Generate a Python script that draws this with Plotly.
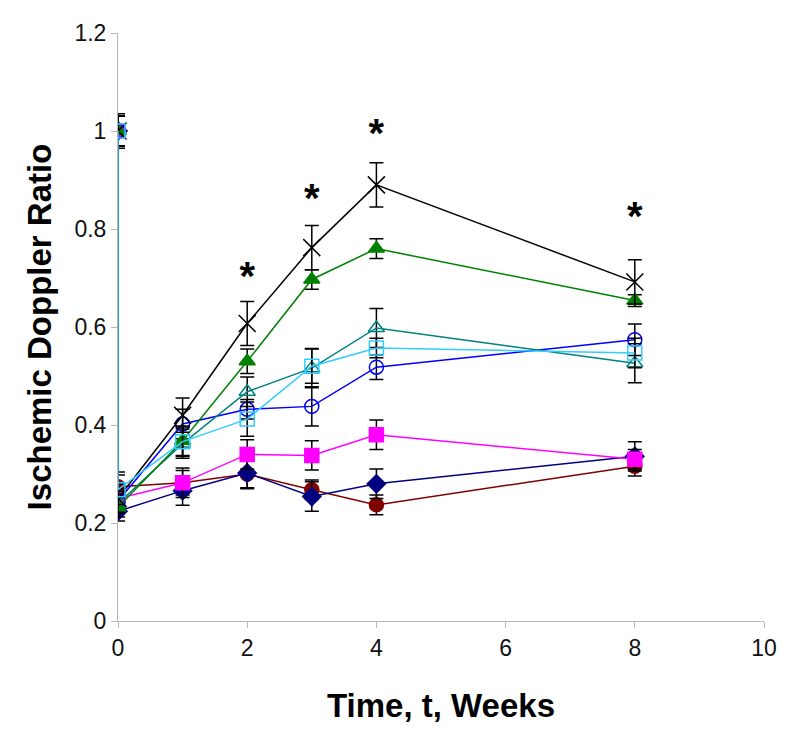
import plotly.graph_objects as go

# time points: two readings at week 0 (pre- and post-ischemia)
weeks = [0, 0, 1, 2, 3, 4, 8]

# series values (ischemic doppler ratio)
black_x = [1.0, 0.25, 0.42, 0.607, 0.762, 0.89, 0.692]
black_x_err = [0.035, 0.03, 0.035, 0.045, 0.045, 0.045, 0.045]

green_tri = [1.0, 0.232, 0.368, 0.53, 0.697, 0.76, 0.654]
green_tri_err = [0.03, 0.02, 0.03, 0.025, 0.02, 0.02, 0.012]

teal_tri = [1.0, 0.24, 0.362, 0.468, 0.516, 0.598, 0.526]
teal_tri_err = [0.03, 0.02, 0.03, 0.03, 0.04, 0.04, 0.04]

cyan_sq = [1.0, 0.268, 0.366, 0.412, 0.52, 0.557, 0.547]
cyan_sq_err = [0.03, 0.03, 0.03, 0.035, 0.035, 0.02, 0.03]

blue_circ = [1.0, 0.245, 0.402, 0.432, 0.438, 0.518, 0.574]
blue_circ_err = [0.03, 0.02, 0.03, 0.02, 0.04, 0.025, 0.032]

magenta_sq = [1.0, 0.25, 0.282, 0.34, 0.338, 0.38, 0.33]
magenta_sq_err = [0.03, 0.02, 0.03, 0.03, 0.03, 0.03, 0.02]

navy_dia = [1.0, 0.224, 0.266, 0.302, 0.254, 0.28, 0.336]
navy_dia_err = [0.03, 0.02, 0.03, 0.03, 0.03, 0.03, 0.03]

red_circ = [1.0, 0.274, 0.282, 0.3, 0.268, 0.237, 0.316]
red_circ_err = [0.03, 0.03, 0.025, 0.03, 0.02, 0.02, 0.02]

# significance markers
sig_weeks = [2, 3, 4, 8]
sig_y = [0.695, 0.855, 0.988, 0.818]

SERIES = [
    (red_circ, red_circ_err, "#800000", "circle", 14),
    (navy_dia, navy_dia_err, "#000080", "diamond", 14),
    (magenta_sq, magenta_sq_err, "#FF00FF", "square", 14),
    (blue_circ, blue_circ_err, "#0000FF", "circle-open", 14),
    (teal_tri, teal_tri_err, "#008080", "triangle-up-open", 14),
    (green_tri, green_tri_err, "#008000", "triangle-up", 14),
    (black_x, black_x_err, "#000000", "x-thin-open", 17),
    (cyan_sq, cyan_sq_err, "#33CCFF", "square-open", 14),
]

fig = go.Figure()

for vals, errs, color, symbol, size in SERIES:
    fig.add_trace(go.Scatter(
        x=weeks, y=vals,
        mode="lines+markers",
        line=dict(color=color, width=1.5),
        marker=dict(symbol=symbol, size=size, color=color,
                    line=dict(color=color, width=1.5)),
        error_y=dict(type="data", array=errs, color="black",
                     thickness=1.5, width=7),
        showlegend=False,
    ))

fig.add_trace(go.Scatter(
    x=sig_weeks, y=sig_y, mode="text", text=["<b>*</b>"] * len(sig_weeks),
    textfont=dict(family="Liberation Sans", size=40, color="black"),
    showlegend=False,
))

axis_common = dict(
    showgrid=False, zeroline=False, showline=True,
    linecolor="#b8b8b8", linewidth=1,
    ticks="outside", ticklen=6, tickcolor="#b8b8b8",
    tickfont=dict(family="Liberation Sans", size=23, color="#111"),
)

fig.update_layout(
    width=781, height=723,
    plot_bgcolor="white", paper_bgcolor="white",
    margin=dict(l=110, r=22, t=13, b=110),
    xaxis=dict(
        range=[0, 10], tickvals=[0, 2, 4, 6, 8, 10],
        title=dict(text="<b>Time, t, Weeks</b>", standoff=34,
                   font=dict(family="Liberation Sans", size=33, color="black")),
        **axis_common,
    ),
    yaxis=dict(
        range=[0, 1.2], tickvals=[0, 0.2, 0.4, 0.6, 0.8, 1.0, 1.2],
        ticktext=["0", "0.2", "0.4", "0.6", "0.8", "1", "1.2"],
        title=dict(text="<b>Ischemic Doppler Ratio</b>", standoff=12,
                   font=dict(family="Liberation Sans", size=33, color="black")),
        **axis_common,
    ),
)

fig.write_html("out.html")
